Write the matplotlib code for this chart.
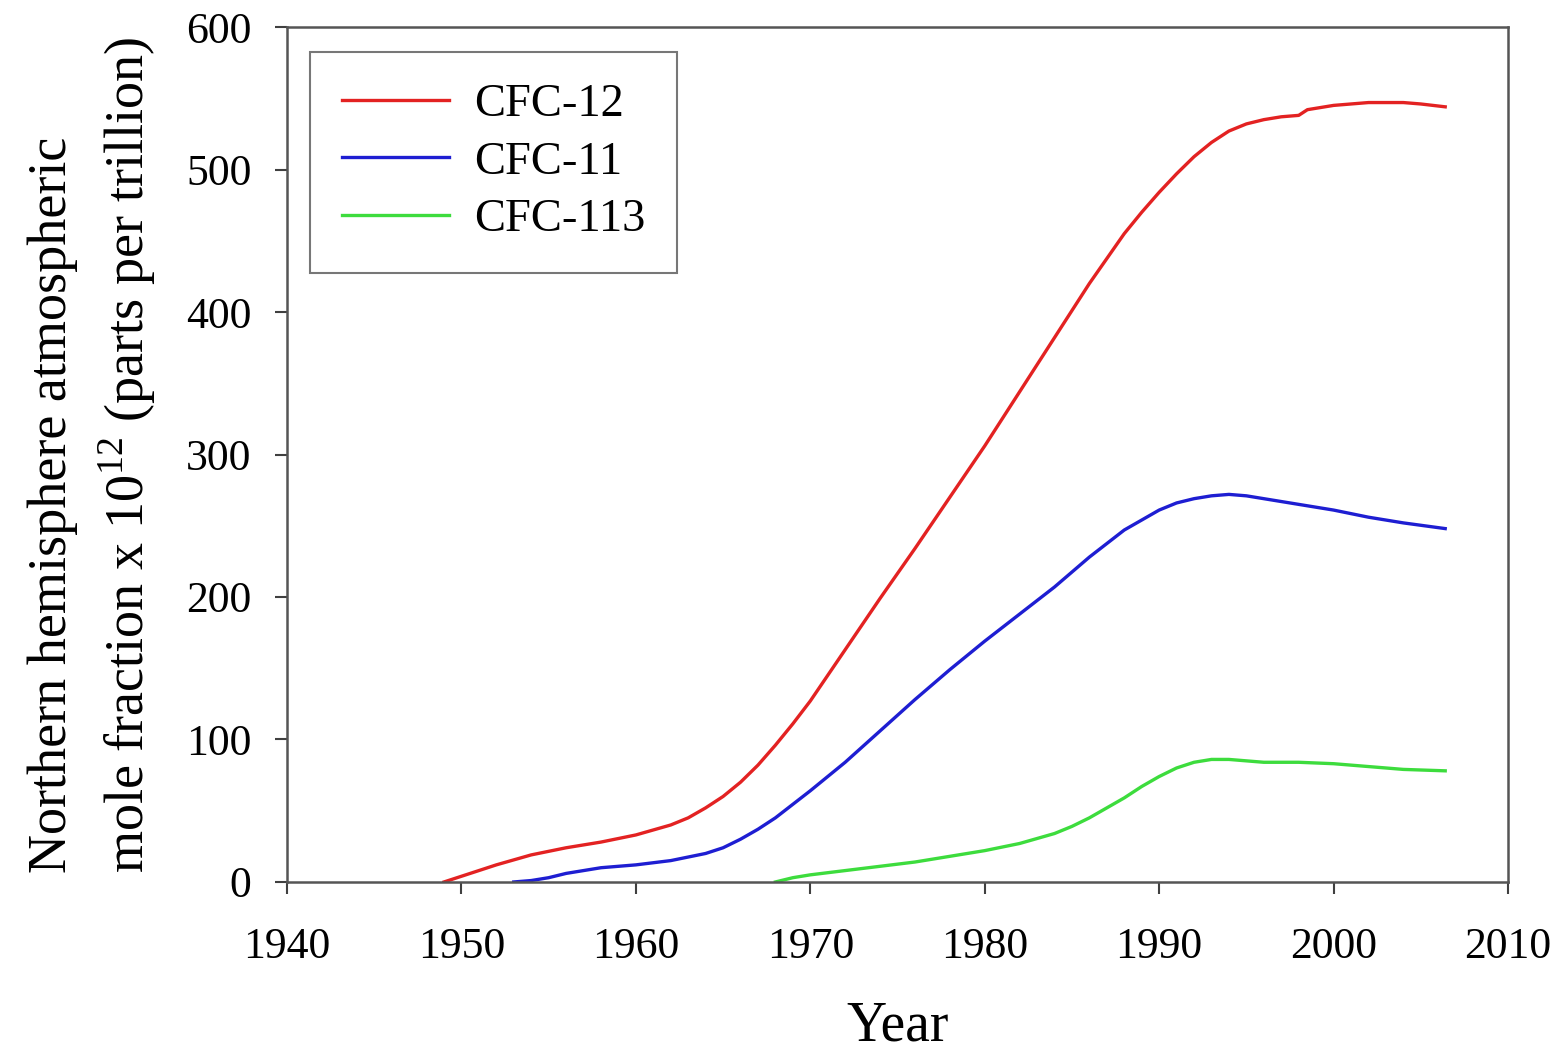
import matplotlib
matplotlib.use("Agg")
import matplotlib.pyplot as plt

plt.rcParams['font.family'] = ['Liberation Serif', 'DejaVu Serif']
plt.rcParams['mathtext.fontset'] = 'custom'
plt.rcParams['mathtext.rm'] = 'Liberation Serif'

# CFC-12
years_12 = [1949, 1950, 1952, 1954, 1956, 1958, 1960, 1962, 1963, 1964, 1965, 1966,
            1967, 1968, 1969, 1970, 1972, 1974, 1976, 1978, 1980, 1982, 1984, 1986,
            1988, 1989, 1990, 1991, 1992, 1993, 1994, 1995, 1996, 1997, 1998, 1998.5,
            2000, 2002, 2004, 2005, 2006.4]
cfc12 = [0, 4, 12, 19, 24, 28, 33, 40, 45, 52, 60, 70,
         82, 96, 111, 127, 163, 199, 234, 270, 306, 344, 382, 420,
         455, 470, 484, 497, 509, 519, 527, 532, 535, 537, 538, 542,
         545, 547, 547, 546, 544]

# CFC-11
years_11 = [1953, 1954, 1955, 1956, 1958, 1960, 1962, 1964, 1965, 1966, 1967, 1968,
            1970, 1972, 1974, 1976, 1978, 1980, 1982, 1984, 1986, 1988, 1989, 1990,
            1991, 1992, 1993, 1994, 1995, 1996, 1998, 2000, 2002, 2004, 2006.4]
cfc11 = [0, 1, 3, 6, 10, 12, 15, 20, 24, 30, 37, 45,
         64, 84, 106, 128, 149, 169, 188, 207, 228, 247, 254, 261,
         266, 269, 271, 272, 271, 269, 265, 261, 256, 252, 248]

# CFC-113
years_113 = [1968, 1969, 1970, 1972, 1974, 1976, 1978, 1980, 1982, 1984, 1985, 1986,
             1987, 1988, 1989, 1990, 1991, 1992, 1993, 1994, 1996, 1998, 2000, 2002,
             2004, 2006.4]
cfc113 = [0, 3, 5, 8, 11, 14, 18, 22, 27, 34, 39, 45,
          52, 59, 67, 74, 80, 84, 86, 86, 84, 84, 83, 81,
          79, 78]

x_ticks = [1940, 1950, 1960, 1970, 1980, 1990, 2000, 2010]
y_ticks = [0, 100, 200, 300, 400, 500, 600]

fig = plt.figure(figsize=(15.64, 10.56), dpi=100)
ax = fig.add_axes([0.1835, 0.1648, 0.7807, 0.8096])

# las tres series
ax.plot(years_12, cfc12, color='#e32222', linewidth=2.4, label='CFC-12')
ax.plot(years_11, cfc11, color='#1e1ed2', linewidth=2.4, label='CFC-11')
ax.plot(years_113, cfc113, color='#3ddc3d', linewidth=2.4, label='CFC-113')

ax.set_xlim(1940, 2010)
ax.set_ylim(0, 600)
ax.set_xticks(x_ticks)
ax.set_yticks(y_ticks)
ax.tick_params(direction='out', length=8.6, width=1.5, labelsize=31.5, color='#404040')
ax.tick_params(axis='x', pad=24)
ax.tick_params(axis='y', pad=17)

for s in ax.spines.values():
    s.set_color('#555555')
    s.set_linewidth(1.8)

ax.set_xlabel('Year', fontsize=40, labelpad=24)
ax.set_ylabel('Northern hemisphere atmospheric\nmole fraction x 10$^{12}$ (parts per trillion)',
              fontsize=39, labelpad=20, multialignment='left', linespacing=1.4)

leg = ax.legend(loc='upper left', bbox_to_anchor=(0.0188, 0.9708), fontsize=33.5,
                handlelength=2.3, frameon=True, fancybox=False, borderpad=0.68,
                borderaxespad=0, labelspacing=0.32, handletextpad=0.54)
leg.get_frame().set_edgecolor('#555555')
leg.get_frame().set_linewidth(1.5)

plt.savefig('out.png', dpi=100)
